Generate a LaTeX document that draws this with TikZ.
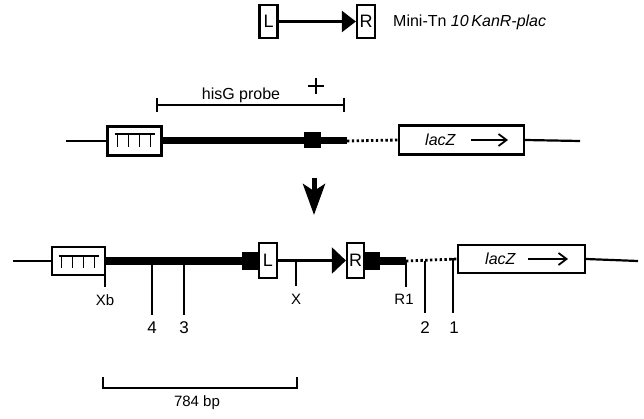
\documentclass[tikz,border=0pt]{standalone}
\usepackage{fontspec}
\setmainfont{Liberation Sans}
\usetikzlibrary{arrows.meta}
\begin{document}
\begin{tikzpicture}[x=1pt,y=-1pt,
  wire/.style={line width=2.2pt},
  heavy/.style={line width=7pt},
  dots/.style={line width=2.8pt, dash pattern=on 2.4pt off 2.4pt},
  gbox/.style={draw, line width=2.2pt, fill=white, inner sep=0pt},
  blk/.style={fill=black, inner sep=0pt},
  tk/.style={line width=2pt},
  comb/.style={line width=1.8pt},
  brk/.style={line width=1.6pt},
  lbl/.style={font=\fontsize{15}{15}\selectfont, inner sep=0pt},
  num/.style={font=\fontsize{17}{17}\selectfont, inner sep=0pt},
  letter/.style={font=\fontsize{18}{18}\selectfont},
  ztext/.style={font=\fontsize{16}{16}\selectfont\itshape, inner sep=0pt, anchor=west},
  zarrow/.style={line width=1.8pt, -{Straight Barb[length=8pt,width=12pt]}},
]
\useasboundingbox (0,0) rectangle (644,419);

% ---- top: mini transposon ----
\node[gbox, letter, minimum width=18pt, minimum height=33pt] (tL) at (268.5,21.5) {L};
\node[gbox, letter, minimum width=18pt, minimum height=33pt] (tR) at (366,21.5) {R};
\draw[wire, -{Triangle[length=14pt,width=21pt]}] (tL) -- (tR);
\node[anchor=base west, font=\fontsize{16}{16}\selectfont, inner sep=0pt] (mini) at (393,27) {Mini-Tn \textit{10\,KanR-plac}};

% ---- probe and plus ----
\coordinate (pA) at (156,105);
\coordinate (pB) at (345,105);
\draw[brk, {Bar[width=14pt]}-{Bar[width=14pt]}] (pA) -- (pB);
\node[anchor=base, font=\fontsize{16}{16}\selectfont, inner sep=0pt] (probe) at (241,100) {hisG probe};
\coordinate (plus) at (316,86);
\draw[line width=2.6pt] (plus) ++(-8,0) -- ++(16,0);
\draw[line width=2.6pt] (plus) ++(0,-8) -- ++(0,16);

% ---- middle row ----
\coordinate (m0) at (66,141);
\node[gbox, minimum width=54pt, minimum height=29pt] (mT) at (134.5,141) {};
\coordinate (mE) at (347,141);
\node[gbox, minimum width=125pt, minimum height=29pt] (mZ) at (461.5,140) {};
\coordinate (m9) at (580,141);
\draw[wire] (m0) -- (mT.west);
\draw[heavy] (mT.east) -- (mE);
\draw[dots] (mE) -- (mZ.west);
\draw[wire] (mZ.east) -- (m9);
\node[blk, minimum width=17pt, minimum height=16pt] (mSq) at (312,140) {};
\draw[comb] (mT.center) ++(-20,-7) -- ++(40,0);
\foreach \dx in {-17,-6,5,16} \draw[comb] (mT.center) ++(\dx,-7) -- ++(0,13);
\node[ztext] (mzT) at (425,140) {lacZ};
\coordinate (mzA) at (471,140);
\coordinate (mzB) at (508,140);
\draw[zarrow] (mzA) -- (mzB);

% ---- big arrow ----
\coordinate (aT) at (314,178);
\coordinate (aB) at (314,215);
\draw[line width=5pt, -{Stealth[length=31pt, width=22pt, inset=7pt]}] (aT) -- (aB);

% ---- bottom row ----
\coordinate (b0) at (13,261);
\node[gbox, minimum width=53pt, minimum height=28pt] (bT) at (78.5,261) {};
\node[blk, minimum width=18pt, minimum height=18pt] (bLb) at (251,261) {};
\node[gbox, letter, minimum width=18pt, minimum height=35pt] (bL) at (268,260.5) {L};
\node[gbox, letter, minimum width=17pt, minimum height=35pt] (bR) at (355.5,260.5) {R};
\node[blk, minimum width=16pt, minimum height=18pt] (bRb) at (372,261) {};
\coordinate (bE) at (406,261);
\node[gbox, minimum width=127pt, minimum height=28pt] (bZ) at (521.5,259) {};
\coordinate (b9) at (638,261);
\draw[wire] (b0) -- (bT.west);
\draw[heavy] (bT.east) -- (bLb.west);
\draw[wire, -{Triangle[length=14pt,width=26pt]}] (bL.east) -- (bR.west);
\draw[heavy] (bRb.east) -- (bE);
\draw[dots] (bE) -- (bZ.west);
\draw[wire] (bZ.east) -- (b9);
\draw[comb] (bT.center) ++(-20,-5) -- ++(40,0);
\foreach \dx in {-17,-6,5,16} \draw[comb] (bT.center) ++(\dx,-5) -- ++(0,12);
\node[ztext] (bzT) at (485,259) {lacZ};
\coordinate (bzA) at (528,259);
\coordinate (bzB) at (568,259);
\draw[zarrow] (bzA) -- (bzB);

% ---- ticks and labels ----
\coordinate (xbT) at (105,275);   \coordinate (xbB) at (105,287);
\coordinate (t4T) at (152,261);   \coordinate (t4B) at (152,315);
\coordinate (t3T) at (184,261);   \coordinate (t3B) at (184,315);
\coordinate (xT) at (296,261);    \coordinate (xB) at (296,286);
\coordinate (r1T) at (406,261);   \coordinate (r1B) at (406,287);
\coordinate (t2T) at (425,261);   \coordinate (t2B) at (425,313);
\coordinate (t1T) at (453,259);   \coordinate (t1B) at (453,313);
\draw[tk] (xbT) -- (xbB);
\draw[tk] (t4T) -- (t4B);
\draw[tk] (t3T) -- (t3B);
\draw[tk] (xT) -- (xB);
\draw[tk] (r1T) -- (r1B);
\draw[tk] (t2T) -- (t2B);
\draw[tk] (t1T) -- (t1B);
\draw[tk] ([xshift=-3pt]t1T) -- ([xshift=3pt]t1T);
\node[lbl] (lXb) at (105,300) {Xb};
\node[lbl] (lX) at (296,299) {X};
\node[lbl] (lR1) at (404,299) {R1};
\node[num] (l4) at (152,328) {4};
\node[num] (l3) at (184,328) {3};
\node[num] (l2) at (425,328) {2};
\node[num] (l1) at (454,328) {1};

% ---- 784 bp bracket ----
\coordinate (k1) at (103,377);
\coordinate (k2) at (297,377);
\draw[brk] (k1) -- ([yshift=-11pt]k1) -| (k2);
\node[font=\fontsize{15}{15}\selectfont, inner sep=0pt] (bp) at (197,403) {784 bp};
\end{tikzpicture}
\end{document}
